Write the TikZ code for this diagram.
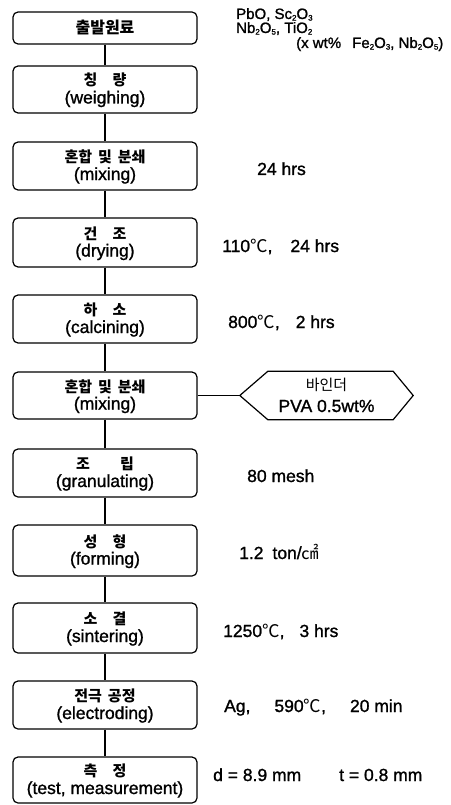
\documentclass[tikz,border=0pt]{standalone}
\usepackage{fontspec}
\setmainfont{Liberation Sans}[RawFeature={embolden=1.2}]
\newfontfamily\kr{Noto Sans CJK KR}
\newcommand\dg{{\kr ℃}}
\newcommand\sbs[1]{\raisebox{-1.6pt}{\fontsize{8}{8}\selectfont #1}}
\newcommand\pstep[5]{%
  \node[procbox, minimum height=#3pt] (#1) at (105,#2) {};
  \node[kor] (#1k) at (105,#2-3.5) {#4};
  \node[eng] (#1e) at (105,#2+14) {#5};}
\tikzset{
  procbox/.style={draw, line width=1.2pt, rounded corners=5pt, minimum width=184pt, inner sep=0pt},
  kor/.style={anchor=base, inner sep=0pt, font=\kr\bfseries\fontsize{15}{17}\selectfont},
  korr/.style={anchor=base, inner sep=0pt, font=\kr\fontsize{15}{17}\selectfont},
  eng/.style={anchor=base, inner sep=0pt, font=\fontsize{17.5}{20}\selectfont},
  lbl/.style={anchor=base west, inner sep=0pt, font=\fontsize{17.5}{20}\selectfont},
  toplbl/.style={anchor=base west, inner sep=0pt, font=\fontsize{15}{16}\selectfont},
  link/.style={line width=1.2pt},
}
\begin{document}
\begin{tikzpicture}[x=1pt,y=-1pt]
\useasboundingbox (0,0) rectangle (450,805);
\clip (0,0) rectangle (450,805);
\fill[white] (0,0) rectangle (450,805);

% first box
\node[procbox, minimum height=32pt] (b1) at (105,28) {};
\node[kor, font=\kr\bfseries\fontsize{16}{18}\selectfont] (b1k) at (105,33.5) {출발원료};

\pstep{b2}{89.5}{47}{칭\hspace{1em}량}{(weighing)}
\pstep{b3}{166}{48}{혼합\hspace{0.4em}및\hspace{0.4em}분쇄}{(mixing)}
\pstep{b4}{242.5}{49}{건\hspace{1em}조}{(drying)}
\pstep{b5}{319}{48}{하\hspace{1em}소}{(calcining)}
\pstep{b6}{395.5}{47}{혼합\hspace{0.4em}및\hspace{0.4em}분쇄}{(mixing)}
\pstep{b7}{473}{48}{조\hspace{2em}립}{(granulating)}
\pstep{b8}{550.5}{51}{성\hspace{1em}형}{(forming)}
\pstep{b9}{628}{50}{소\hspace{1em}결}{(sintering)}
\pstep{b10}{705}{48}{전극\hspace{0.4em}공정}{(electroding)}
\pstep{b11}{780}{46}{측\hspace{1em}정}{(test, measurement)}

% connectors
\draw[link] (b1) -- (b2);
\draw[link] (b2) -- (b3);
\draw[link] (b3) -- (b4);
\draw[link] (b4) -- (b5);
\draw[link] (b5) -- (b6);
\draw[link] (b6) -- (b7);
\draw[link] (b7) -- (b8);
\draw[link] (b8) -- (b9);
\draw[link] (b9) -- (b10);
\draw[link] (b10) -- (b11);

% binder hexagon
\node[minimum width=173pt, minimum height=48pt, inner sep=0pt] (hex) at (326.5,395.5) {};
\draw[line width=1.2pt] (hex.west) -- ([xshift=28pt]hex.north west) -- ([xshift=-20pt]hex.north east)
  -- (hex.east) -- ([xshift=-20pt]hex.south east) -- ([xshift=28pt]hex.south west) -- cycle;
\node[korr] (hexk) at (326.5,390) {바인더};
\node[eng] (hexe) at (326.5,412) {PVA 0.5wt\%};
\draw[link] (b6.east) -- (hex.west);

% top labels
\node[toplbl] (t1) at (236,19) {PbO, Sc\sbs{2}O\sbs{3}};
\node[toplbl] (t2) at (236,33) {Nb\sbs{2}O\sbs{5}, TiO\sbs{2}};
\node[toplbl] (t3) at (296,48) {(x wt\%\hspace{11pt}Fe\sbs{2}O\sbs{3}, Nb\sbs{2}O\sbs{5})};

% right labels
\node[lbl] (l3) at (257,175) {24 hrs};
\node[lbl] (l4) at (222,252) {110\dg,\hspace{18pt}24 hrs};
\node[lbl] (l5) at (228,328) {800\dg,\hspace{16pt}2 hrs};
\node[lbl] (l7) at (247,482) {80 mesh};
\node[lbl] (l8) at (239,559) {1.2\hspace{9pt}ton/{\kr ㎠}};
\node[lbl] (l9) at (223,637) {1250\dg,\hspace{15pt}3 hrs};
\node[lbl] (l10) at (224,712) {Ag,\hspace{24pt}590\dg,\hspace{24pt}20 min};
\node[lbl] (l11) at (213,781) {d = 8.9 mm\hspace{38pt}t = 0.8 mm};
\end{tikzpicture}
\end{document}
